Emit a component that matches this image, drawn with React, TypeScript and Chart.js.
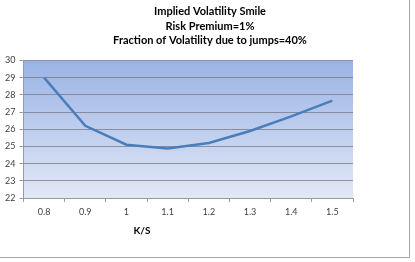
import React, { useEffect, useRef } from "react";
import { Chart, registerables } from "chart.js";

Chart.register(...registerables);

const titleLines = [
  "Implied Volatility Smile",
  "Risk Premium=1%",
  "Fraction of Volatility due to jumps=40%",
];
const xTitle = "K/S";
const categories = ["0.8", "0.9", "1", "1.1", "1.2", "1.3", "1.4", "1.5"];
const impliedVol = [29.0, 26.2, 25.1, 24.88, 25.2, 25.9, 26.75, 27.67];
const yMin = 22;
const yMax = 30;
const yStep = 1;

const FONT = "Lato, 'Open Sans', sans-serif";

const decorPlugin = {
  id: "decor",
  beforeDraw(chart: any) {
    const { ctx, chartArea } = chart;
    const g = ctx.createLinearGradient(0, chartArea.top, 0, chartArea.bottom);
    g.addColorStop(0, "#9ab3e5");
    g.addColorStop(1, "#e2e8f6");
    ctx.save();
    ctx.fillStyle = g;
    ctx.fillRect(chartArea.left, chartArea.top, chartArea.right - chartArea.left, chartArea.bottom - chartArea.top);
    ctx.restore();
  },
  afterDraw(chart: any) {
    const { ctx } = chart;
    ctx.save();
    ctx.fillStyle = "#000000";
    ctx.textAlign = "center";
    ctx.textBaseline = "middle";
    ctx.font = "bold 11px " + FONT;
    titleLines.forEach((t, i) => ctx.fillText(t, 210, 11.5 + i * 14.5));
    ctx.font = "bold 10px " + FONT;
    ctx.fillText(xTitle, 142, 231);
    ctx.strokeStyle = "#a6a6a6";
    ctx.lineWidth = 1;
    ctx.beginPath();
    ctx.moveTo(409.5, 0);
    ctx.lineTo(409.5, 257.5);
    ctx.lineTo(0, 257.5);
    ctx.stroke();
    ctx.restore();
  },
};

export default function App() {
  const ref = useRef<HTMLCanvasElement>(null);
  useEffect(() => {
    if (!ref.current) return;
    const chart = new Chart(ref.current, {
      type: "line",
      data: {
        labels: categories,
        datasets: [
          {
            data: impliedVol,
            borderColor: "#4a7ebb",
            borderWidth: 2.5,
            pointRadius: 0,
            tension: 0,
            fill: false,
          },
        ],
      },
      options: {
        animation: false,
        responsive: false,
        maintainAspectRatio: false,
        layout: { padding: { top: 60.5, right: 62, bottom: 0, left: 0 } },
        plugins: { legend: { display: false }, title: { display: false }, tooltip: { enabled: false } },
        scales: {
          x: {
            type: "category",
            offset: true,
            grid: { offset: true, drawOnChartArea: false, drawTicks: true, tickLength: 4, color: "#9a9a9a" },
            border: { color: "#9a9a9a" },
            ticks: { color: "#404040", font: { size: 9, family: FONT }, padding: 5, maxRotation: 0 },
            afterFit: (s: any) => { s.height = 64; },
          },
          y: {
            min: yMin,
            max: yMax,
            ticks: { stepSize: yStep, color: "#404040", font: { size: 9, family: FONT }, padding: 4 },
            grid: { color: "rgba(120,120,130,0.75)", tickLength: 4 },
            border: { color: "#9a9a9a" },
            afterFit: (s: any) => { s.width = 23.5; },
          },
        },
      },
      plugins: [decorPlugin],
    });
    return () => chart.destroy();
  }, []);
  return (
    <div style={{ position: "fixed", left: 0, top: 0, width: 415, height: 262, background: "#fff" }}>
      <canvas ref={ref} width={415} height={262} style={{ width: 415, height: 262, display: "block" }} />
    </div>
  );
}
